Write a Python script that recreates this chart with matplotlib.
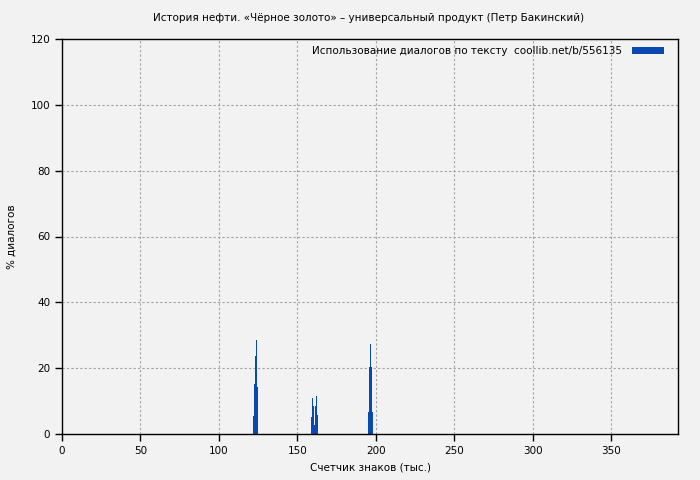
import matplotlib
matplotlib.use("Agg")
import matplotlib.pyplot as plt

# Data (thousands of characters, % dialogues)
x1 = [121.9, 122.5, 123.2, 123.7, 124.4]
h1 = [5.5, 15.2, 23.8, 28.5, 14.3]
x2 = [159.1, 159.7, 160.4, 161.0, 161.6, 162.3, 162.9]
h2 = [5.1, 11.0, 8.5, 2.7, 8.5, 11.5, 5.8]
x3 = [195.2, 195.8, 196.5, 197.1, 197.7]
h3 = [6.8, 20.4, 27.4, 20.4, 6.8]
xs = x1 + x2 + x3
hs = h1 + h2 + h3

xticks = [0, 50, 100, 150, 200, 250, 300, 350]
yticks = [0, 20, 40, 60, 80, 100, 120]

title = "История нефти. «Чёрное золото» – универсальный продукт (Петр Бакинский)"
legend_label = "Использование диалогов по тексту  coollib.net/b/556135"

plt.rcParams['font.family'] = ['DejaVu Sans']
fs = 7.5

bg = '#f2f2f2'
fig = plt.figure(figsize=(7, 4.8), dpi=100, facecolor=bg)
ax = fig.add_axes([62/700, 46/480, 616/700, 395/480])
ax.set_facecolor(bg)

ax.bar(xs, hs, width=0.64, color='#0a47b0', align='center', linewidth=0,
       label=legend_label)

ax.set_xlim(0, 392.7)
ax.set_ylim(0, 120)
ax.set_xticks(xticks)
ax.set_yticks(yticks)
ax.grid(True, color='#a0a0a0', linestyle=(0, (2, 2)), linewidth=0.8)
ax.set_axisbelow(True)
for s in ax.spines.values():
    s.set_color('black')
    s.set_linewidth(1.0)
ax.tick_params(direction='out', length=5, width=1, colors='black', labelsize=fs)

ax.set_xlabel("Счетчик знаков (тыс.)", fontsize=fs, labelpad=5)
ax.set_ylabel("% диалогов", fontsize=fs, labelpad=10)
fig.text(369/700, 1 - 18/480, title, ha='center', va='center', fontsize=fs)

leg = ax.legend(loc='upper right', frameon=False, fontsize=fs,
                markerfirst=False, handlelength=3.0, handleheight=0.6,
                borderaxespad=0.6, handletextpad=1.0,
                bbox_to_anchor=(1.0 - 4/616, 1.0 + 3/395))

fig.savefig("out.png", dpi=100, facecolor=bg)
